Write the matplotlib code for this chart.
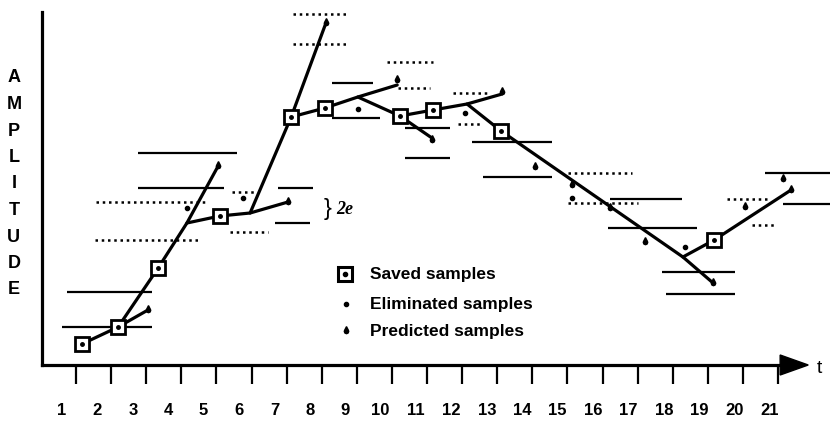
import matplotlib
matplotlib.use('Agg')
import matplotlib.pyplot as plt
from matplotlib.transforms import ScaledTranslation

plt.rcParams['font.family'] = ['Liberation Sans', 'DejaVu Sans']

# time axis
t_ticks = list(range(1, 22))
tick_labels = [str(k) for k in t_ticks]
axis_top = 35.3
axis_left = 0.03
axis_end = 21.06
arrow_tip = 21.86

# saved samples (t, amplitude)
saved_t = [1.17, 2.20, 3.34, 5.10, 7.13, 8.09, 10.23, 11.17, 13.11, 19.18]
saved_a = [2.1, 3.8, 9.7, 14.9, 24.8, 25.7, 24.9, 25.5, 23.4, 12.5]

# predicted samples
pred_t = [3.05, 5.05, 7.04, 8.12, 10.15, 11.14, 13.14, 14.08, 15.13, 16.21, 17.21, 19.15, 20.06, 21.14, 21.37]
pred_a = [5.5, 19.9, 16.3, 34.2, 28.5, 22.5, 27.3, 19.8, 18.0, 15.7, 12.3, 8.2, 15.8, 18.6, 17.5]

# eliminated samples
elim_t = [4.16, 5.76, 9.03, 12.08, 15.13, 18.35]
elim_a = [15.7, 16.7, 25.6, 25.2, 16.7, 11.8]

# prediction lines through the saved samples
seg_t = [
    [1.17, 2.20, 3.05],
    [2.20, 3.34, 4.16, 5.05],
    [4.16, 5.10, 5.96, 7.04],
    [5.96, 7.13, 8.12],
    [7.13, 8.09, 9.03, 10.15],
    [9.03, 10.23, 11.14],
    [10.23, 11.17, 12.14, 13.14],
    [12.14, 13.11, 18.29, 19.15],
    [18.29, 19.18, 21.37],
]
seg_a = [
    [2.1, 3.8, 5.5],
    [3.8, 9.7, 14.2, 19.9],
    [14.2, 14.9, 15.2, 16.3],
    [15.2, 24.8, 34.2],
    [24.8, 25.7, 26.8, 28.0],
    [26.8, 24.9, 22.7],
    [24.9, 25.5, 26.1, 27.1],
    [26.1, 23.4, 10.8, 8.2],
    [10.8, 12.5, 17.5],
]

# tolerance bands (+-e), solid
solid_a = [21.2, 17.7, 17.7, 14.2, 7.3, 3.8, 28.2, 24.7, 23.7, 20.7, 22.3, 18.8, 16.6, 13.7, 9.3, 7.1, 19.2, 16.1]
solid_t0 = [2.77, 2.77, 6.75, 6.67, 0.74, 0.60, 8.29, 8.29, 10.37, 10.37, 12.28, 12.60, 16.21, 16.16, 17.70, 17.81, 20.63, 21.14]
solid_t1 = [5.59, 5.22, 7.75, 7.67, 3.17, 3.17, 9.46, 9.66, 11.66, 11.66, 14.56, 14.56, 18.26, 18.69, 19.77, 19.77, 22.48, 22.48]

# tolerance bands, dotted
dot_a = [16.3, 12.5, 17.3, 13.3, 35.1, 32.1, 30.3, 27.7, 27.2, 24.1, 19.2, 16.2, 16.6, 14.0]
dot_t0 = [1.57, 1.54, 5.44, 5.39, 7.18, 7.18, 9.86, 10.17, 11.74, 11.88, 15.02, 15.02, 19.55, 20.26]
dot_t1 = [4.70, 4.48, 6.16, 6.47, 8.75, 8.69, 11.17, 11.09, 12.71, 12.60, 16.84, 17.01, 20.72, 20.97]

ylabel_letters = list("AMPLITUDE")
legend_labels = ['Saved samples', 'Eliminated samples', 'Predicted samples']
legend_a = [9.1, 6.1, 3.4]

# teardrop marker for predicted samples
tear = [(0, 2.2), (0.87, 0.5), (1, 0), (0.71, -0.71), (0, -1), (-0.71, -0.71), (-1, 0), (-0.87, 0.5), (0, 2.2)]

fig = plt.figure(figsize=(8.3, 4.23), dpi=100)
ax = fig.add_axes([0, 0, 1, 1])
ax.set_xlim(-1.165, 22.48)
ax.set_ylim(-5.8, 36.5)

# axes like the drawing
for s in ['top', 'right']:
    ax.spines[s].set_visible(False)
ax.spines['left'].set_position(('data', axis_left))
ax.spines['bottom'].set_position(('data', 0))
ax.spines['left'].set_bounds(0, axis_top)
ax.spines['bottom'].set_bounds(axis_left, axis_end)
ax.spines['left'].set_linewidth(2.3)
ax.spines['bottom'].set_linewidth(2.3)
ax.set_yticks([])
ax.set_xticks(t_ticks)
ax.set_xticklabels(tick_labels, fontsize=12, fontweight='bold')
ax.tick_params(axis='x', direction='out', length=14, width=1.6, pad=13)
for k, lbl in enumerate(ax.get_xticklabels()):
    shift = -14 + 6 * k / 20
    lbl.set_transform(lbl.get_transform() + ScaledTranslation(shift / 100, 0, fig.dpi_scale_trans))
ax.fill([axis_end, arrow_tip, axis_end], [1.0, 0, -1.0], color='k', clip_on=False)
ax.text(22.1, -0.3, 't', fontsize=14, ha='left', va='center')

for i, ch in enumerate(ylabel_letters):
    ax.text(-0.77, 28.7 - i * 2.65, ch, fontsize=13, fontweight='bold', ha='center', va='center')

# bands
ax.hlines(solid_a, solid_t0, solid_t1, colors='k', linewidth=1.6, clip_on=False)
ax.hlines(dot_a, dot_t0, dot_t1, colors='k', linewidth=1.8, linestyles=(0, (1, 1.5)))

# prediction lines
for ts, As in zip(seg_t, seg_a):
    ax.plot(ts, As, color='k', linewidth=2.3, solid_capstyle='round')

ax.plot(pred_t, pred_a, linestyle='none', marker=tear, markersize=7, color='k')
ax.plot(elim_t, elim_a, linestyle='none', marker='o', markersize=3, color='k')
ax.plot(saved_t, saved_a, linestyle='none', marker='s', markersize=9.5,
        markerfacecolor='white', markeredgecolor='k', markeredgewidth=2)
ax.plot(saved_t, saved_a, linestyle='none', marker='o', markersize=2.5, color='k')

ax.text(8.05, 15.6, '}', fontsize=17, ha='left', va='center')
ax.text(8.42, 15.6, '2e', fontsize=13, style='italic', family='Liberation Serif',
        fontweight='bold', ha='left', va='center')

# legend
ax.plot([8.66], [legend_a[0]], marker='s', markersize=10, markerfacecolor='white',
        markeredgecolor='k', markeredgewidth=2.2, linestyle='none')
ax.plot([8.66], [legend_a[0]], marker='o', markersize=3, color='k')
ax.plot([8.70], [legend_a[1]], marker='o', markersize=3, color='k')
ax.plot([8.70], [legend_a[2]], marker=tear, markersize=7, color='k')
for lab, a in zip(legend_labels, legend_a):
    ax.text(9.38, a, lab, fontsize=12.5, fontweight='bold', ha='left', va='center')

fig.savefig('out.png', dpi=100)
